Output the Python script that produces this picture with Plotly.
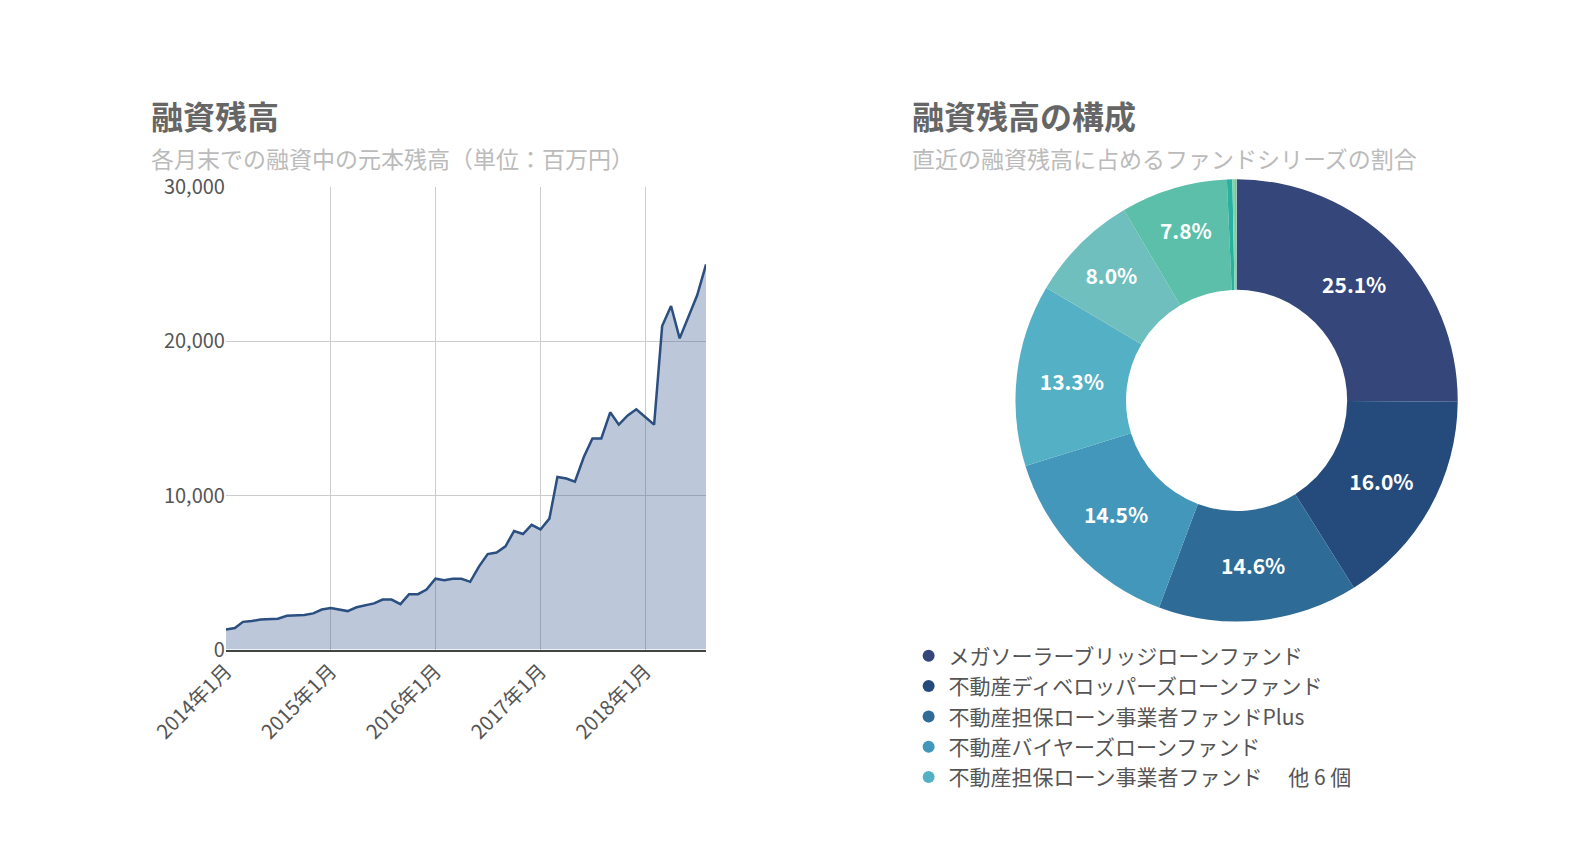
import plotly.graph_objects as go
import pandas as pd

# monthly outstanding loans (million yen), Jan 2014 - Aug 2018
months = pd.date_range("2014-01-01", "2018-08-01", freq="MS")
balance = [1300, 1400, 1800, 1850, 1950, 2000, 2000, 2200, 2250, 2250, 2350, 2600,
           2700, 2600, 2500, 2750, 2850, 3000, 3250, 3250, 2950, 3600, 3600, 3900,
           4600, 4500, 4600, 4600, 4400, 5400, 6200, 6300, 6700, 7700, 7500, 8100,
           7800, 8500, 11200, 11100, 10900, 12500, 13700, 13700, 15400, 14600, 15200, 15600,
           15100, 14600, 21000, 22300, 20200, 21600, 23000, 25000]
tick_dates = ["2014-01-01", "2015-01-01", "2016-01-01", "2017-01-01", "2018-01-01"]
tick_text = ["2014年1月", "2015年1月", "2016年1月", "2017年1月", "2018年1月"]

funds = ["メガソーラーブリッジローンファンド", "不動産ディベロッパーズローンファンド",
         "不動産担保ローン事業者ファンドPlus", "不動産バイヤーズローンファンド",
         "不動産担保ローン事業者ファンド", "その他A", "その他B", "その他C", "その他D",
         "その他E", "その他F"]
shares = [25.1, 16.0, 14.6, 14.5, 13.3, 8.0, 7.8, 0.4, 0.2, 0.05, 0.05]
legend_names = funds[:4] + ["不動産担保ローン事業者ファンド　 他 6 個"]
colors = ["#34467a", "#254b7c", "#2e6b96", "#4397ba", "#54b0c5", "#6ebfbd",
          "#5bbfaa", "#2ab0a0", "#7fd6a8", "#3aa58f", "#a6e0b8"]

font = "Noto Sans CJK JP"
fig = go.Figure()

fig.add_trace(go.Scatter(x=months, y=balance, mode="lines", fill="tozeroy",
                         line=dict(color="#2a4f80", width=2.5),
                         fillcolor="rgba(52,86,140,0.33)", showlegend=False))

fig.add_trace(go.Pie(labels=funds, values=shares, hole=0.5, sort=False,
                     direction="clockwise", rotation=0,
                     marker=dict(colors=colors, line=dict(color="white", width=0)),
                     texttemplate=[f"<b>{v:.1f}%</b>" if v >= 5 else "" for v in shares],
                     textinfo="text", textposition="inside",
                     insidetextfont=dict(color="white", size=21, family=font),
                     insidetextorientation="horizontal",
                     domain=dict(x=[0.627, 0.925], y=[0.27, 0.813]),
                     showlegend=False))

# legend entries for the top five series
for name, c in zip(legend_names, colors[:5]):
    fig.add_trace(go.Scatter(x=[None], y=[None], mode="markers", name=name,
                             marker=dict(color=c, size=22), xaxis="x2", yaxis="y2"))

fig.update_layout(
    autosize=True, margin=dict(l=0, r=0, t=0, b=0),
    plot_bgcolor="white", paper_bgcolor="white",
    font=dict(family=font, color="#555"),
    xaxis=dict(domain=[0.095, 0.4185], range=["2014-01-01", "2018-08-01"],
               tickvals=tick_dates, ticktext=tick_text, tickangle=-45,
               showgrid=True, gridcolor="#ccc", tickfont=dict(size=20, color="#555"),
               showline=True, linecolor="#444", linewidth=2),
    yaxis=dict(domain=[0.238, 0.801], range=[0, 30000], tickvals=[0, 10000, 20000, 30000],
               tickformat=",", gridcolor="#ccc", zeroline=False,
               tickfont=dict(size=20, color="#555")),
    xaxis2=dict(visible=False, domain=[0.9, 0.91]),
    yaxis2=dict(visible=False, domain=[0.9, 0.91], anchor="x2"),
    legend=dict(x=0.555, y=0.255, yanchor="top", font=dict(size=21, color="#555"),
                itemsizing="constant", tracegroupgap=0),
    annotations=[
        dict(text="<b>融資残高</b>", x=0.043, y=0.92, xref="paper", yref="paper",
             xanchor="left", showarrow=False, font=dict(size=32, color="#666")),
        dict(text="各月末での融資中の元本残高（単位：百万円）", x=0.043, y=0.86,
             xref="paper", yref="paper", xanchor="left", showarrow=False,
             font=dict(size=23, color="#bbb")),
        dict(text="<b>融資残高の構成</b>", x=0.556, y=0.92, xref="paper", yref="paper",
             xanchor="left", showarrow=False, font=dict(size=32, color="#666")),
        dict(text="直近の融資残高に占めるファンドシリーズの割合", x=0.556, y=0.86,
             xref="paper", yref="paper", xanchor="left", showarrow=False,
             font=dict(size=23, color="#bbb")),
    ],
)

fig.write_html("out.html")
